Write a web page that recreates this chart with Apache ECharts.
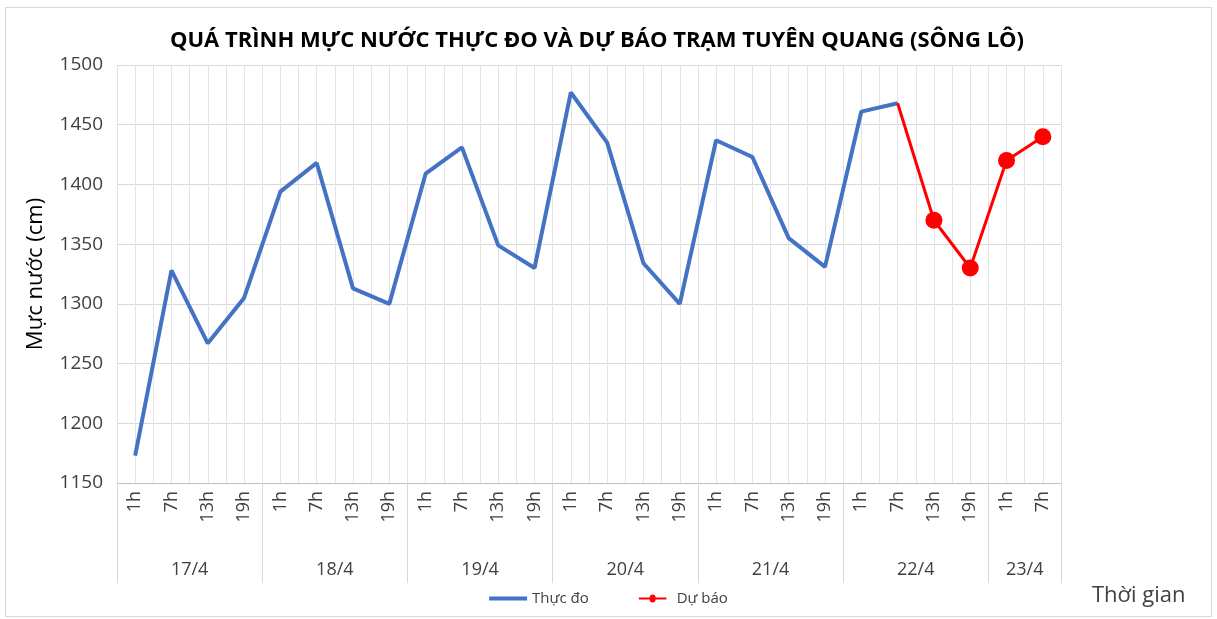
<!DOCTYPE html>
<html>
<head>
<meta charset="utf-8">
<script src="https://cdn.jsdelivr.net/npm/echarts@6/dist/echarts.min.js"></script>
<style>
  html, body { margin: 0; padding: 0; background: #fff; }
  #main { width: 1217px; height: 619px; }
  #frame { position: absolute; left: 5px; top: 7px; width: 1205px; height: 608px; border: 1px solid #d9d9d9; pointer-events: none; }
</style>
</head>
<body>
<div id="main"></div>
<div id="frame"></div>
<script>
'use strict';
// Ngày và giờ đo
var dates = ['17/4', '18/4', '19/4', '20/4', '21/4', '22/4', '23/4'];
var hoursPerDay = [
  ['1h', '7h', '13h', '19h'],
  ['1h', '7h', '13h', '19h'],
  ['1h', '7h', '13h', '19h'],
  ['1h', '7h', '13h', '19h'],
  ['1h', '7h', '13h', '19h'],
  ['1h', '7h', '13h', '19h'],
  ['1h', '7h']
];
// Mực nước thực đo (cm)
var thucDo = [1173, 1328, 1267, 1305, 1394, 1418, 1313, 1300, 1409, 1431, 1349, 1330,
              1477, 1435, 1334, 1300, 1437, 1423, 1355, 1331, 1461, 1468];
// Mực nước dự báo (cm), bắt đầu từ 7h ngày 22/4
var duBao = [1468, 1370, 1330, 1420, 1440];
var yTicks = [1150, 1200, 1250, 1300, 1350, 1400, 1450, 1500];

var categories = [];
var groupEdges = [0];
var groupCenters = [];
hoursPerDay.forEach(function(h) {
  var start = categories.length;
  h.forEach(function(x) { categories.push(x); });
  groupEdges.push(categories.length);
  groupCenters.push((start + categories.length) / 2);
});
var n = categories.length;

var thucDoData = thucDo.slice();
while (thucDoData.length < n) thucDoData.push(null);
var duBaoData = [];
for (var i = 0; i < n - duBao.length; i++) duBaoData.push(null);
duBao.forEach(function(v, k) {
  duBaoData.push(k === 0 ? { value: v, symbol: 'none' } : v);
});

var font = '"Open Sans", "Noto Sans", sans-serif';
var myChart = echarts.init(document.getElementById('main'));
var option = {
  animation: false,
  textStyle: { fontFamily: font },
  title: {
    text: 'QUÁ TRÌNH MỰC NƯỚC THỰC ĐO VÀ DỰ BÁO TRẠM TUYÊN QUANG (SÔNG LÔ)',
    left: 592, textAlign: 'center', top: 25,
    textStyle: { fontSize: 22, fontWeight: 'bold', color: '#000', fontFamily: font }
  },
  legend: {
    bottom: 8, left: 'center', itemGap: 50, itemWidth: 38, itemHeight: 8,
    textStyle: { fontSize: 15, color: '#404040' },
    data: [
      { name: 'Thực đo', icon: 'path://M0,2 L38,2 L38,6 L0,6 Z' },
      { name: 'Dự báo', icon: 'path://M0,2.5 L15,2.5 A4,4 0 0 1 23,2.5 L38,2.5 L38,5.5 L23,5.5 A4,4 0 0 1 15,5.5 L0,5.5 Z' }
    ]
  },
  graphic: [{
    type: 'text', left: 1092, top: 585,
    style: { text: 'Thời gian', fontSize: 22, fill: '#404040', fontFamily: font }
  }],
  grid: { left: 117, right: 156, top: 65, bottom: 136 },
  xAxis: [
    {
      type: 'category', data: categories, position: 'bottom',
      axisLine: { lineStyle: { color: '#bfbfbf' } },
      axisTick: { show: false },
      splitLine: { show: false },
      axisLabel: { rotate: 90, fontSize: 18, color: '#404040', margin: 8, interval: 0 }
    },
    {
      type: 'value', min: 0, max: n, position: 'bottom',
      axisLine: { show: false },
      axisTick: { show: true, customValues: groupEdges, length: 100, lineStyle: { color: '#d9d9d9' } },
      axisLabel: {
        customValues: groupCenters, margin: 78, fontSize: 18, color: '#404040',
        formatter: function(v) { return dates[groupCenters.indexOf(v)] || ''; }
      },
      splitLine: { show: false }
    },
    {
      type: 'value', min: 0, max: n, interval: 0.5, position: 'top',
      axisLine: { show: false }, axisTick: { show: false }, axisLabel: { show: false },
      splitLine: { show: true, lineStyle: { color: '#e3e3e3', width: 1 } }
    }
  ],
  yAxis: {
    type: 'value', min: yTicks[0], max: yTicks[yTicks.length - 1], interval: 50,
    name: 'Mực nước (cm)', nameLocation: 'middle', nameGap: 70, nameRotate: 90,
    nameTextStyle: { fontSize: 22, color: '#000' },
    axisLine: { show: false }, axisTick: { show: false },
    axisLabel: { fontSize: 19, color: '#404040', margin: 14, formatter: function(v) { return String(v); } },
    splitLine: { lineStyle: { color: '#d9d9d9' } }
  },
  series: [
    {
      name: 'Thực đo', type: 'line', data: thucDoData, xAxisIndex: 0,
      showSymbol: false, symbol: 'none', color: '#4472C4',
      lineStyle: { width: 4, color: '#4472C4' }, z: 3
    },
    {
      name: 'Dự báo', type: 'line', data: duBaoData, xAxisIndex: 0,
      symbol: 'circle', symbolSize: 17, color: '#FF0000',
      lineStyle: { width: 3, color: '#FF0000' },
      itemStyle: { color: '#FF0000' }, z: 4
    }
  ]
};
myChart.setOption(option);
</script>
</body>
</html>
